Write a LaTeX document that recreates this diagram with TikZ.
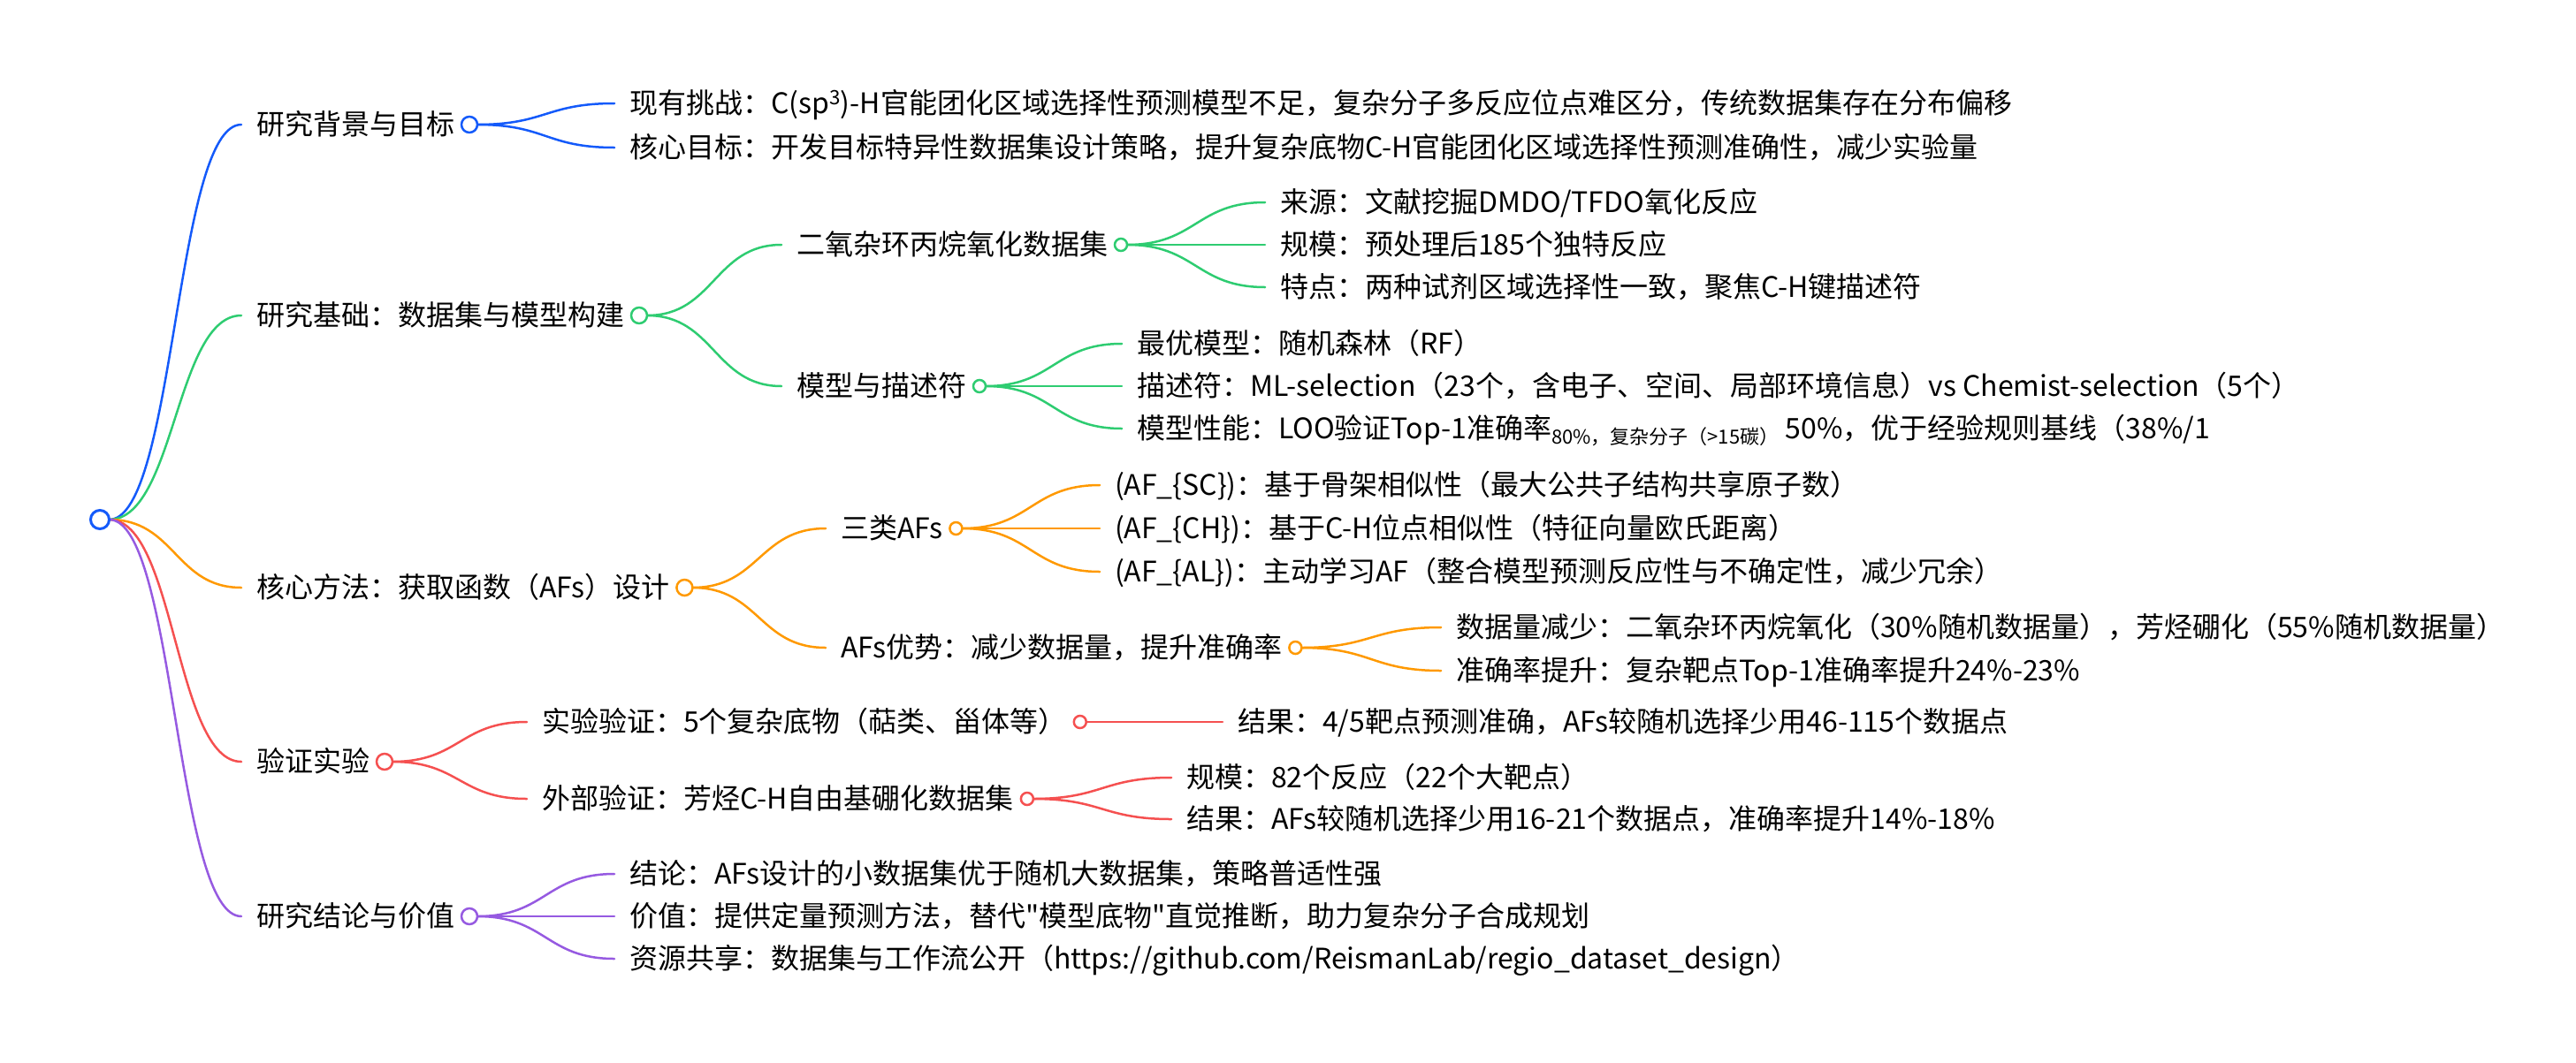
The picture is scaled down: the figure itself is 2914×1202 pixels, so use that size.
\documentclass[tikz,border=0pt]{standalone}
\usepackage{fontspec}
\newfontfamily\cjk{Noto Sans CJK SC}
\usepackage{xcolor}
\usetikzlibrary{positioning,calc,backgrounds}

\definecolor{mmblue}{RGB}{20,90,250}
\definecolor{mmgreen}{RGB}{46,204,113}
\definecolor{mmorange}{RGB}{255,153,0}
\definecolor{mmred}{RGB}{245,80,80}
\definecolor{mmpurple}{RGB}{150,90,225}

\newcommand\lowtxt[1]{\raisebox{-6pt}{\fontsize{22}{24}\selectfont #1}}

\tikzset{
 txt/.style={anchor=west,inner sep=0pt,outer sep=0pt,font=\cjk\fontsize{32}{38}\selectfont,text height=27pt,text depth=5pt},
 dot/.style={circle,draw=#1,fill=white,line width=2.5pt,inner sep=0pt,outer sep=0pt,minimum size=14pt},
 bigdot/.style={dot=#1,minimum size=18pt},
 link/.style={draw=#1,line width=2.5pt,line cap=round,
  to path={let \p1=(\tikztostart),\p2=(\tikztotarget) in
   .. controls ({(\x1+\x2)/2},\y1) and ({(\x1+\x2)/2},\y2) .. (\tikztotarget)}},
}

\begin{document}
\begin{tikzpicture}[x=1pt,y=-1pt]
\useasboundingbox (0,0) rectangle (2914,1202);
% root
\node[dot=mmblue,minimum size=21pt,line width=3pt] (root) at (113,588) {};
% first level
\node[txt] (b1) at (290,141) {研究背景与目标};
\node[txt] (b2) at (290,357) {研究基础：数据集与模型构建};
\node[txt] (b3) at (290,665) {核心方法：获取函数（AFs）设计};
\node[txt] (b4) at (290,862) {验证实验};
\node[txt] (b5) at (290,1037) {研究结论与价值};
\node[bigdot=mmblue,right=8pt of b1] (b1c) {};
\node[bigdot=mmgreen,right=8pt of b2] (b2c) {};
\node[bigdot=mmorange,right=8pt of b3] (b3c) {};
\node[bigdot=mmred,right=8pt of b4] (b4c) {};
\node[bigdot=mmpurple,right=8pt of b5] (b5c) {};
% second level
\node[txt] (c1) at (712,117) {现有挑战：C(sp\textsuperscript{3})-H官能团化区域选择性预测模型不足，复杂分子多反应位点难区分，传统数据集存在分布偏移};
\node[txt] (c2) at (712,167) {核心目标：开发目标特异性数据集设计策略，提升复杂底物C-H官能团化区域选择性预测准确性，减少实验量};
\node[txt] (c3) at (901,277) {二氧杂环丙烷氧化数据集};
\node[txt] (c4) at (901,437) {模型与描述符};
\node[txt] (c5) at (951,598) {三类AFs};
\node[txt] (c6) at (951,733) {AFs优势：减少数据量，提升准确率};
\node[txt] (c7) at (613,817) {实验验证：5个复杂底物（萜类、甾体等）};
\node[txt] (c8) at (613,904) {外部验证：芳烃C-H自由基硼化数据集};
\node[txt] (c9) at (712,989) {结论：AFs设计的小数据集优于随机大数据集，策略普适性强};
\node[txt] (c10) at (712,1037) {价值：提供定量预测方法，替代"模型底物"直觉推断，助力复杂分子合成规划};
\node[txt] (c11) at (712,1085) {资源共享：数据集与工作流公开（https://github.com/ReismanLab/regio\_dataset\_design）};
\node[dot=mmgreen,right=8pt of c3] (c3c) {};
\node[dot=mmgreen,right=8pt of c4] (c4c) {};
\node[dot=mmorange,right=8pt of c5] (c5c) {};
\node[dot=mmorange,right=8pt of c6] (c6c) {};
\node[dot=mmred,right=8pt of c7] (c7c) {};
\node[dot=mmred,right=8pt of c8] (c8c) {};
% third level
\node[txt] (d1) at (1448,229) {来源：文献挖掘DMDO/TFDO氧化反应};
\node[txt] (d2) at (1448,277) {规模：预处理后185个独特反应};
\node[txt] (d3) at (1448,325) {特点：两种试剂区域选择性一致，聚焦C-H键描述符};
\node[txt] (d4) at (1286,389) {最优模型：随机森林（RF）};
\node[txt] (d5) at (1286,437) {描述符：ML-selection（23个，含电子、空间、局部环境信息）vs Chemist-selection（5个）};
\node[txt] (d6) at (1286,485) {模型性能：LOO验证Top-1准确率\lowtxt{80\%，复杂分子（>15碳）} 50\%，优于经验规则基线（38\%/1};
\node[txt] (d7) at (1261,549) {(AF\_\{SC\})：基于骨架相似性（最大公共子结构共享原子数）};
\node[txt] (d8) at (1261,598) {(AF\_\{CH\})：基于C-H位点相似性（特征向量欧氏距离）};
\node[txt] (d9) at (1261,647) {(AF\_\{AL\})：主动学习AF（整合模型预测反应性与不确定性，减少冗余）};
\node[txt] (d10) at (1647,710) {数据量减少：二氧杂环丙烷氧化（30\%随机数据量），芳烃硼化（55\%随机数据量）};
\node[txt] (d11) at (1647,759) {准确率提升：复杂靶点Top-1准确率提升24\%-23\%};
\node[txt] (d12) at (1400,817) {结果：4/5靶点预测准确，AFs较随机选择少用46-115个数据点};
\node[txt] (d13) at (1342,880) {规模：82个反应（22个大靶点）};
\node[txt] (d14) at (1342,927) {结果：AFs较随机选择少用16-21个数据点，准确率提升14\%-18\%};
% links
\begin{scope}[on background layer]
\draw[link=mmblue] (root.east) to ([xshift=-17pt]b1.west);
\draw[link=mmgreen] (root.east) to ([xshift=-17pt]b2.west);
\draw[link=mmorange] (root.east) to ([xshift=-17pt]b3.west);
\draw[link=mmred] (root.east) to ([xshift=-17pt]b4.west);
\draw[link=mmpurple] (root.east) to ([xshift=-17pt]b5.west);
\draw[link=mmblue] (b1c.east) to ([xshift=-17pt]c1.west);
\draw[link=mmblue] (b1c.east) to ([xshift=-17pt]c2.west);
\draw[link=mmgreen] (b2c.east) to ([xshift=-17pt]c3.west);
\draw[link=mmgreen] (b2c.east) to ([xshift=-17pt]c4.west);
\draw[link=mmorange] (b3c.east) to ([xshift=-17pt]c5.west);
\draw[link=mmorange] (b3c.east) to ([xshift=-17pt]c6.west);
\draw[link=mmred] (b4c.east) to ([xshift=-17pt]c7.west);
\draw[link=mmred] (b4c.east) to ([xshift=-17pt]c8.west);
\draw[link=mmpurple] (b5c.east) to ([xshift=-17pt]c9.west);
\draw[link=mmpurple] (b5c.east) to ([xshift=-17pt]c10.west);
\draw[link=mmpurple] (b5c.east) to ([xshift=-17pt]c11.west);
\draw[link=mmgreen] (c3c.east) to ([xshift=-17pt]d1.west);
\draw[link=mmgreen] (c3c.east) to ([xshift=-17pt]d2.west);
\draw[link=mmgreen] (c3c.east) to ([xshift=-17pt]d3.west);
\draw[link=mmgreen] (c4c.east) to ([xshift=-17pt]d4.west);
\draw[link=mmgreen] (c4c.east) to ([xshift=-17pt]d5.west);
\draw[link=mmgreen] (c4c.east) to ([xshift=-17pt]d6.west);
\draw[link=mmorange] (c5c.east) to ([xshift=-17pt]d7.west);
\draw[link=mmorange] (c5c.east) to ([xshift=-17pt]d8.west);
\draw[link=mmorange] (c5c.east) to ([xshift=-17pt]d9.west);
\draw[link=mmorange] (c6c.east) to ([xshift=-17pt]d10.west);
\draw[link=mmorange] (c6c.east) to ([xshift=-17pt]d11.west);
\draw[link=mmred] (c7c.east) to ([xshift=-17pt]d12.west);
\draw[link=mmred] (c8c.east) to ([xshift=-17pt]d13.west);
\draw[link=mmred] (c8c.east) to ([xshift=-17pt]d14.west);
\end{scope}
\end{tikzpicture}
\end{document}
